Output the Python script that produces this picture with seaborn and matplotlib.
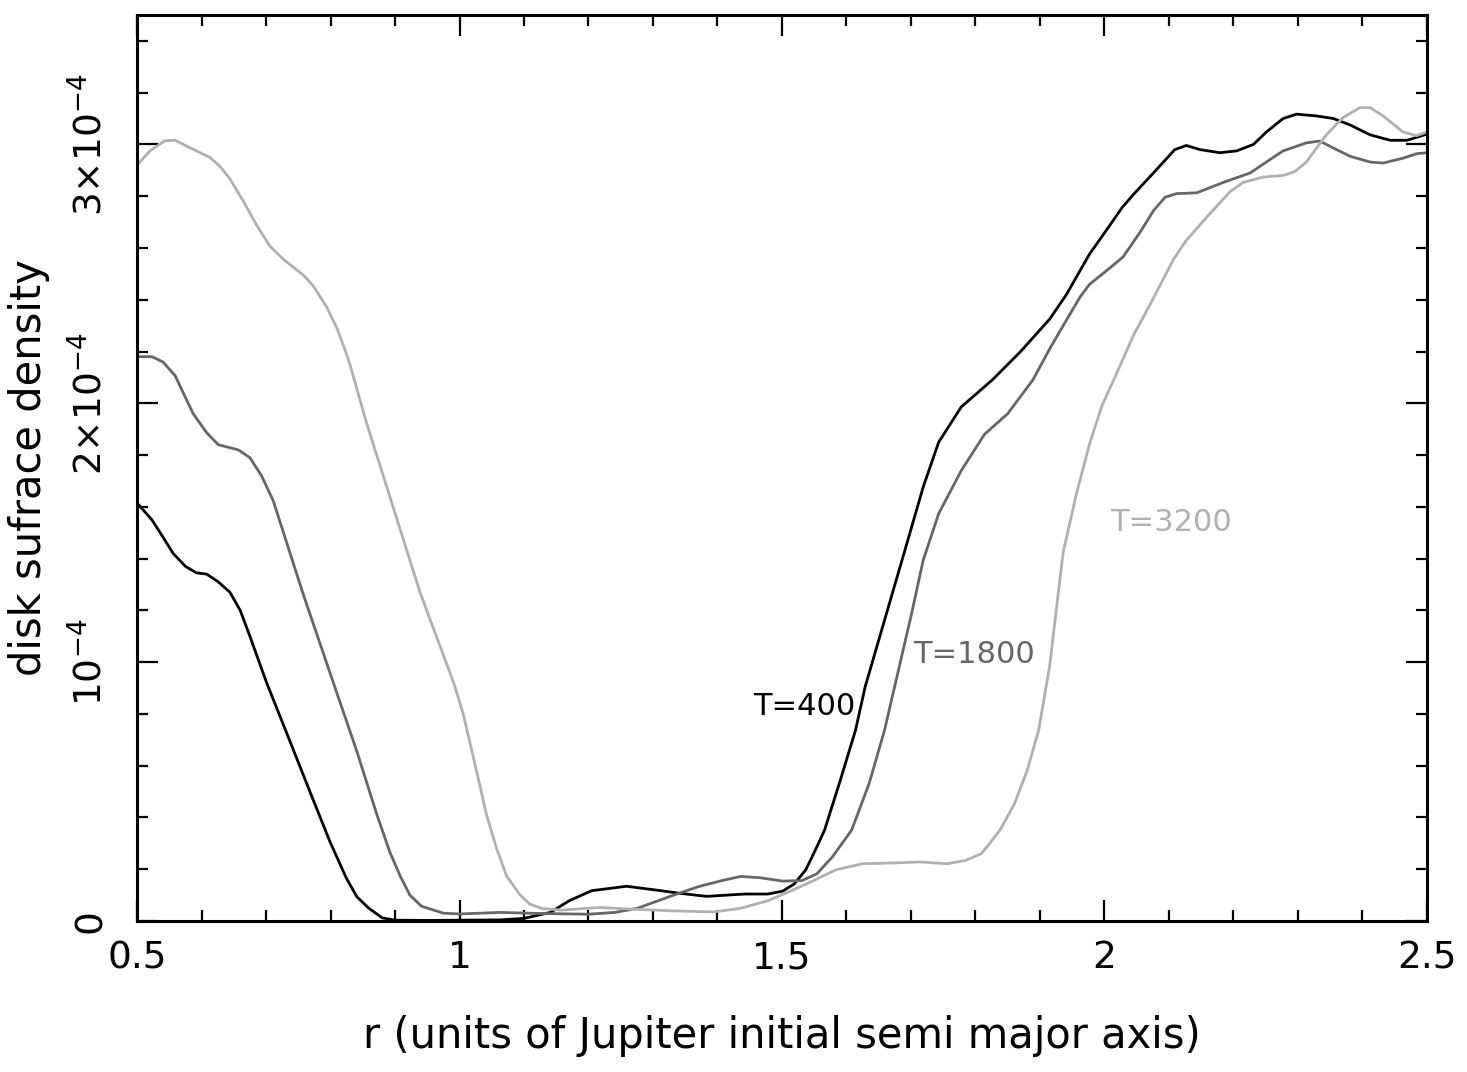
import numpy as np
import pandas as pd
import seaborn as sns
import matplotlib
matplotlib.use("Agg")
import matplotlib.pyplot as plt
from matplotlib.ticker import FixedLocator, FixedFormatter, MultipleLocator

# Surface density profiles (units of 1e-4)
x400 = [0.500, 0.523, 0.541, 0.556, 0.575, 0.592, 0.608, 0.626, 0.644, 0.660,
        0.675, 0.701, 0.737, 0.768, 0.799, 0.825, 0.841, 0.859, 0.880, 0.900,
        0.950, 1.000, 1.063, 1.100, 1.141, 1.170, 1.205, 1.259, 1.312, 1.341,
        1.383, 1.442, 1.478, 1.501, 1.519, 1.537, 1.554, 1.566, 1.590, 1.614,
        1.629, 1.659, 1.695, 1.719, 1.743, 1.778, 1.826, 1.870, 1.915, 1.941,
        1.977, 2.009, 2.027, 2.045, 2.076, 2.109, 2.127, 2.148, 2.179, 2.205,
        2.231, 2.251, 2.277, 2.298, 2.329, 2.355, 2.381, 2.412, 2.443, 2.469,
        2.500]
y400 = [1.615, 1.55, 1.48, 1.42, 1.37, 1.345, 1.34, 1.31, 1.27, 1.20,
        1.10, 0.92, 0.695, 0.50, 0.307, 0.163, 0.093, 0.05, 0.012, 0.003,
        0.002, 0.003, 0.004, 0.01, 0.033, 0.078, 0.117, 0.134, 0.117, 0.107,
        0.095, 0.104, 0.104, 0.115, 0.143, 0.198, 0.286, 0.351, 0.54, 0.737,
        0.905, 1.162, 1.47, 1.677, 1.85, 1.986, 2.09, 2.20, 2.325, 2.42,
        2.577, 2.69, 2.755, 2.807, 2.89, 2.98, 2.996, 2.98, 2.968, 2.975,
        3.0, 3.048, 3.1, 3.117, 3.11, 3.1, 3.075, 3.037, 3.016, 3.016,
        3.04]

x1800 = [0.500, 0.523, 0.540, 0.559, 0.587, 0.608, 0.626, 0.657, 0.675, 0.693,
         0.711, 0.758, 0.799, 0.841, 0.872, 0.892, 0.908, 0.923, 0.941, 0.975,
         1.000, 1.063, 1.122, 1.200, 1.241, 1.276, 1.330, 1.371, 1.407, 1.436,
         1.466, 1.501, 1.531, 1.554, 1.578, 1.608, 1.635, 1.659, 1.683, 1.701,
         1.719, 1.743, 1.778, 1.814, 1.850, 1.889, 1.915, 1.936, 1.962, 1.977,
         2.009, 2.029, 2.055, 2.076, 2.094, 2.112, 2.143, 2.184, 2.226, 2.251,
         2.277, 2.313, 2.334, 2.355, 2.381, 2.412, 2.432, 2.463, 2.484, 2.500]
y1800 = [2.18, 2.18, 2.16, 2.107, 1.96, 1.886, 1.84, 1.82, 1.79, 1.72,
         1.625, 1.26, 0.96, 0.654, 0.41, 0.266, 0.174, 0.10, 0.057, 0.03,
         0.027, 0.033, 0.029, 0.026, 0.033, 0.049, 0.098, 0.133, 0.156, 0.172,
         0.167, 0.154, 0.156, 0.182, 0.247, 0.351, 0.53, 0.737, 0.995, 1.188,
         1.394, 1.574, 1.74, 1.88, 1.96, 2.09, 2.21, 2.30, 2.41, 2.46,
         2.524, 2.566, 2.66, 2.744, 2.796, 2.81, 2.813, 2.853, 2.89, 2.932,
         2.975, 3.006, 3.013, 2.986, 2.954, 2.932, 2.928, 2.947, 2.964, 2.968]

x3200 = [0.500, 0.520, 0.543, 0.559, 0.592, 0.613, 0.629, 0.644, 0.665, 0.685,
         0.706, 0.727, 0.758, 0.773, 0.794, 0.810, 0.828, 0.856, 0.882, 0.939,
         0.991, 1.006, 1.027, 1.042, 1.058, 1.073, 1.094, 1.109, 1.128, 1.158,
         1.217, 1.264, 1.330, 1.395, 1.436, 1.478, 1.513, 1.549, 1.584, 1.625,
         1.685, 1.714, 1.756, 1.785, 1.809, 1.826, 1.838, 1.860, 1.880, 1.898,
         1.915, 1.936, 1.957, 1.977, 1.996, 2.019, 2.045, 2.070, 2.107, 2.127,
         2.164, 2.195, 2.215, 2.246, 2.277, 2.295, 2.313, 2.344, 2.370, 2.396,
         2.412, 2.432, 2.463, 2.484, 2.500]
y3200 = [2.92, 2.975, 3.014, 3.016, 2.975, 2.95, 2.914, 2.867, 2.78, 2.69,
         2.607, 2.556, 2.495, 2.454, 2.372, 2.29, 2.168, 1.923, 1.718, 1.268,
         0.92, 0.798, 0.573, 0.409, 0.276, 0.174, 0.10, 0.065, 0.048, 0.042,
         0.052, 0.046, 0.039, 0.035, 0.049, 0.078, 0.115, 0.156, 0.198, 0.221,
         0.225, 0.228, 0.221, 0.234, 0.26, 0.312, 0.351, 0.45, 0.58, 0.737,
         0.985, 1.425, 1.655, 1.844, 1.99, 2.116, 2.263, 2.378, 2.556, 2.63,
         2.734, 2.818, 2.853, 2.874, 2.88, 2.895, 2.932, 3.037, 3.104, 3.142,
         3.142, 3.11, 3.048, 3.034, 3.048]

labels = ["T=400", "T=1800", "T=3200"]
colors = ["#000000", "#666666", "#b0b0b0"]
label_pos = [(1.455, 0.83), (1.703, 1.03), (2.008, 1.54)]

ytick_vals = [0, 1e-4, 2e-4, 3e-4]
ytick_text = ["0", r"$10^{-4}$", r"$2{\times}10^{-4}$", r"$3{\times}10^{-4}$"]
xtick_vals = [0.5, 1, 1.5, 2, 2.5]
xtick_text = ["0.5", "1", "1.5", "2", "2.5"]

frames = []
for lab, xs, ys in zip(labels, [x400, x1800, x3200], [y400, y1800, y3200]):
    frames.append(pd.DataFrame({"r": xs, "sigma": np.array(ys) * 1e-4, "run": lab}))
df = pd.concat(frames, ignore_index=True)

sns.set_style("ticks")
plt.rcParams['font.family'] = ['DejaVu Sans']
plt.rcParams['mathtext.fontset'] = 'dejavusans'
plt.rcParams['text.color'] = 'black'
plt.rcParams['axes.labelcolor'] = 'black'
plt.rcParams['xtick.color'] = 'black'
plt.rcParams['ytick.color'] = 'black'

fig = plt.figure(figsize=(14.67, 10.72), dpi=100)
ax = fig.add_axes([0.0934, 0.1409, 0.8793, 0.8451])

sns.lineplot(data=df, x="r", y="sigma", hue="run", hue_order=labels,
             palette=colors, sort=False, linewidth=2.0, legend=False, ax=ax)

for lab, col, (tx, ty) in zip(labels, colors, label_pos):
    ax.text(tx, ty * 1e-4, lab, color=col, fontsize=22, ha="left", va="center")

ax.set_xlim(0.5, 2.5)
ax.set_ylim(0, 3.5e-4)

ax.xaxis.set_major_locator(FixedLocator(xtick_vals))
ax.xaxis.set_major_formatter(FixedFormatter(xtick_text))
ax.xaxis.set_minor_locator(MultipleLocator(0.1))
ax.yaxis.set_major_locator(FixedLocator(ytick_vals))
ax.yaxis.set_major_formatter(FixedFormatter(ytick_text))
ax.yaxis.set_minor_locator(MultipleLocator(2e-5))

ax.tick_params(which="both", direction="in", top=True, right=True, width=1.6,
               colors="black", labelcolor="black")
ax.tick_params(which="major", length=15, labelsize=27)
ax.tick_params(which="minor", length=8)
ax.tick_params(axis="x", which="major", pad=14)
ax.tick_params(axis="y", which="major", pad=20)
for t in ax.get_yticklabels():
    t.set_rotation(90)
    t.set_va("center")

for s in ax.spines.values():
    s.set_linewidth(2.2)
    s.set_color("black")

ax.set_xlabel("r (units of Jupiter initial semi major axis)", fontsize=30,
              labelpad=28, color="black")
ax.set_ylabel("disk sufrace density", fontsize=30, labelpad=14, color="black")

fig.savefig("out.png", dpi=100)
